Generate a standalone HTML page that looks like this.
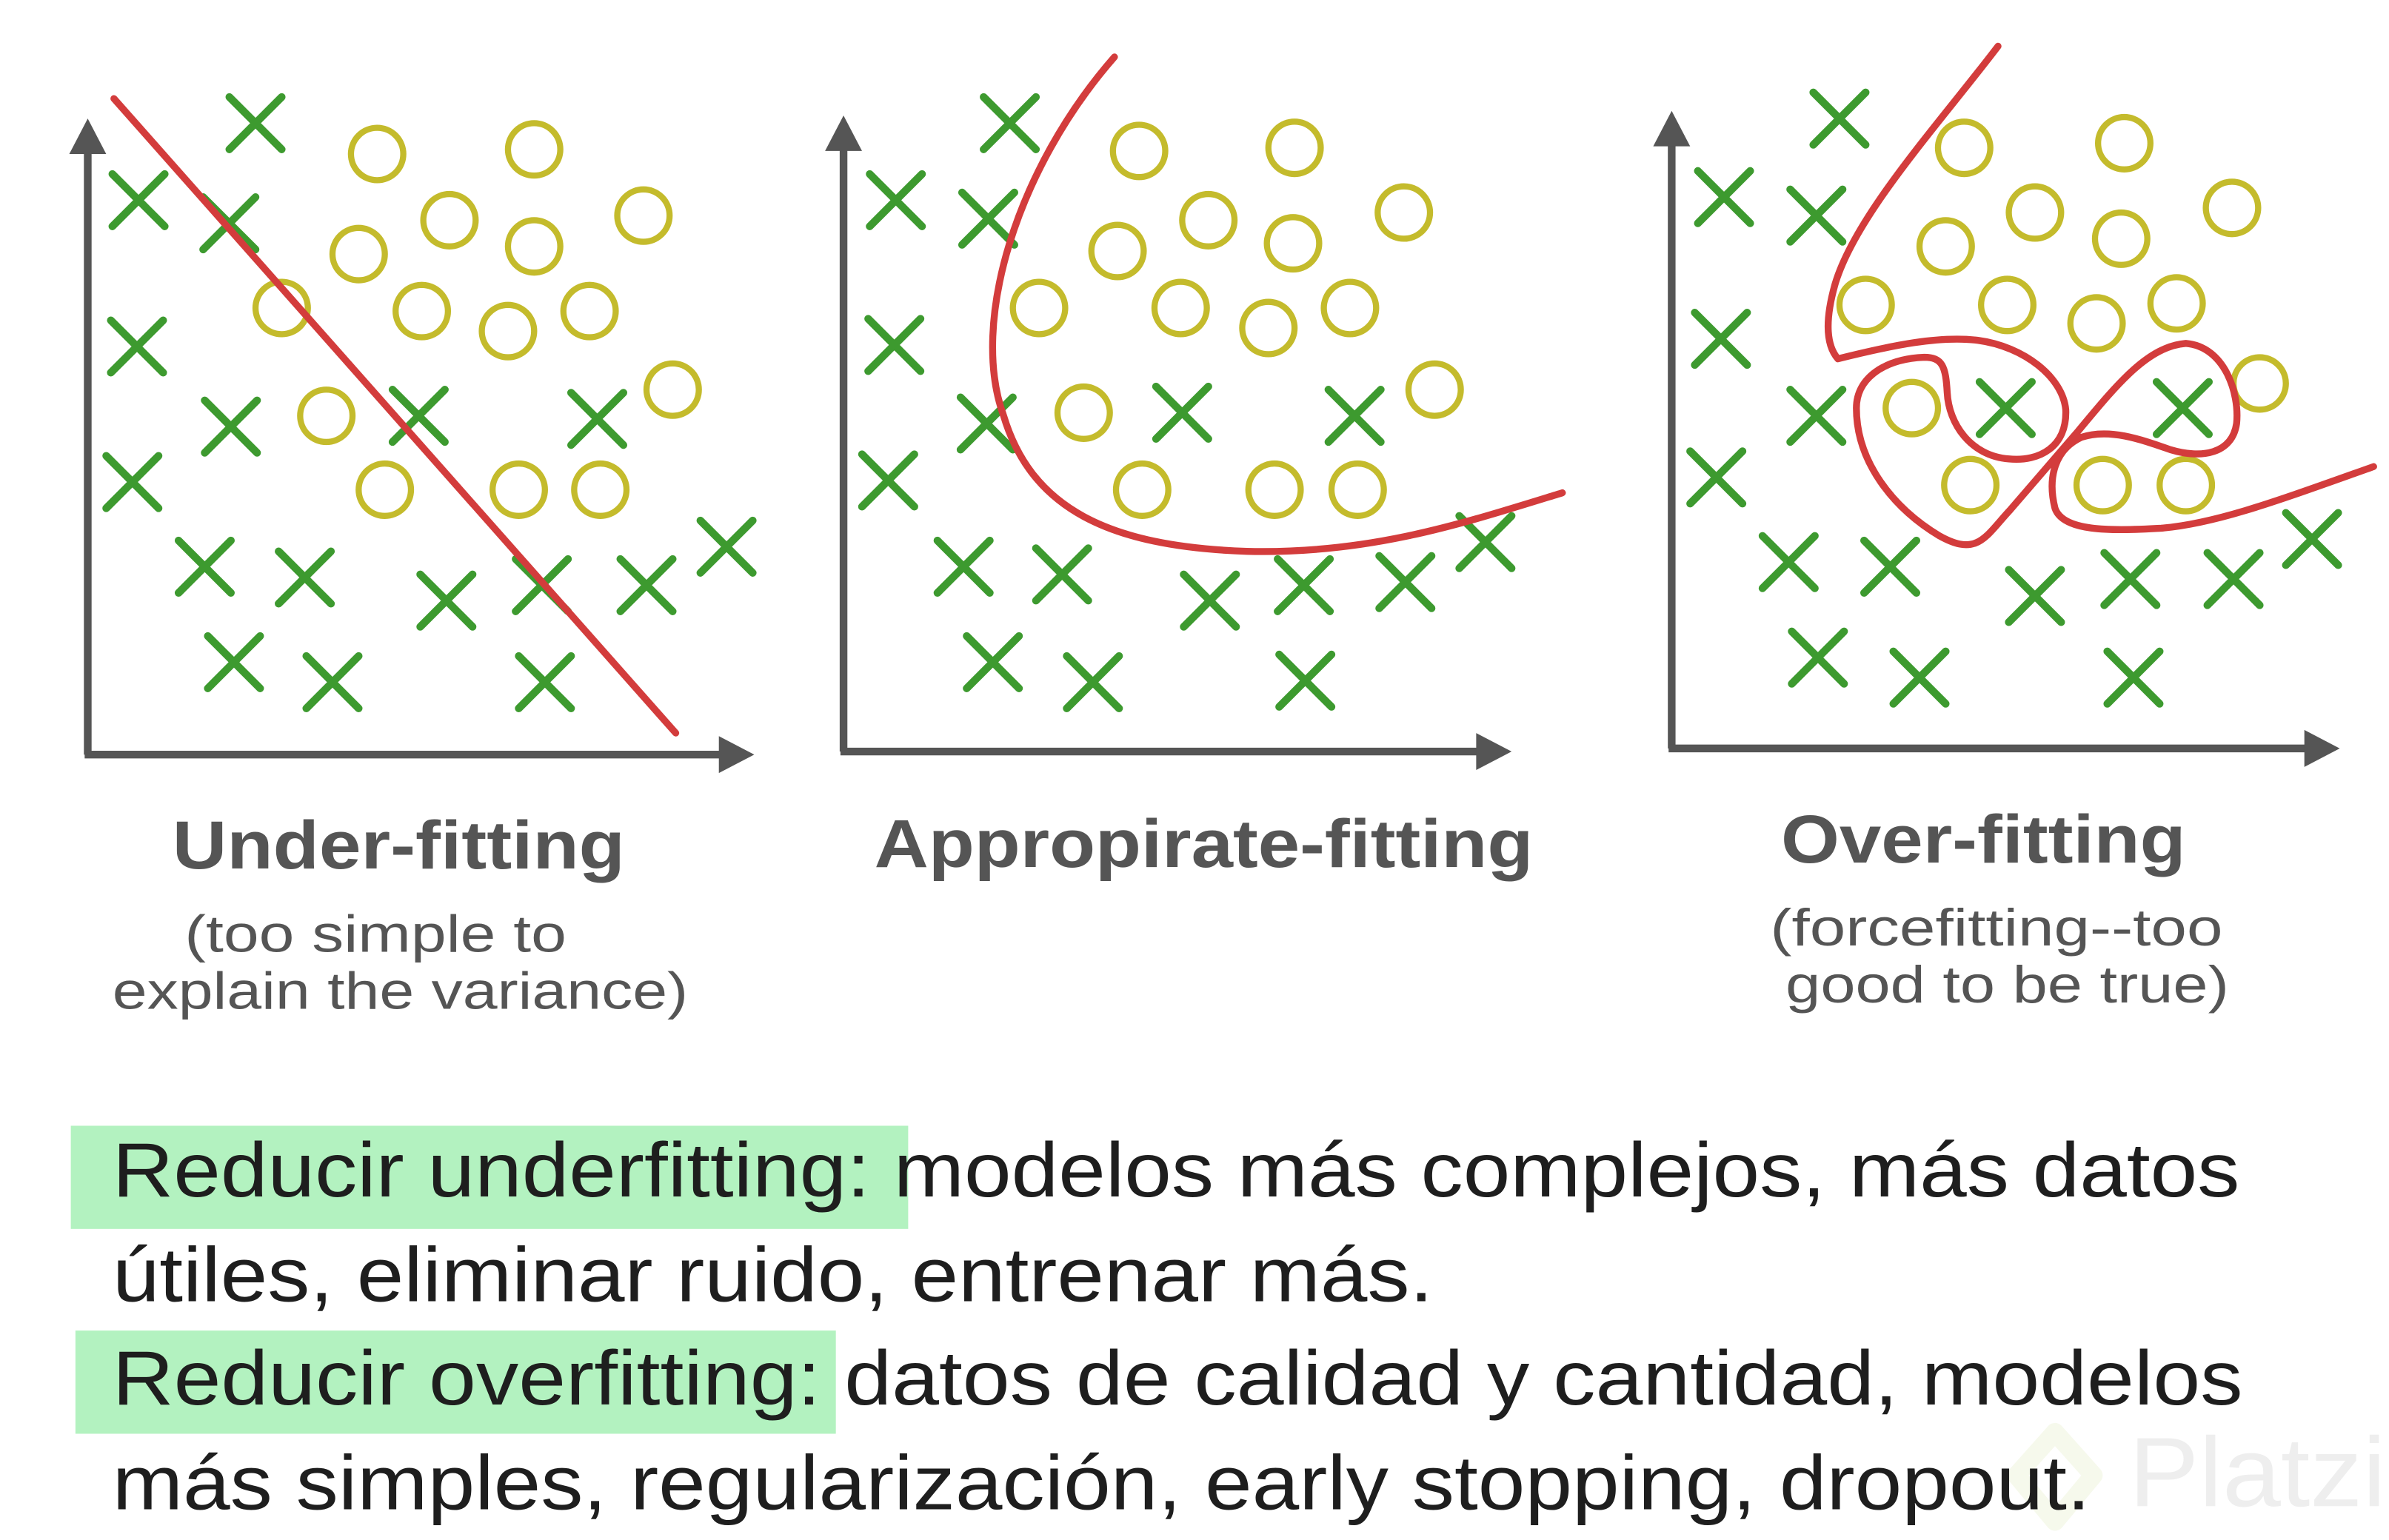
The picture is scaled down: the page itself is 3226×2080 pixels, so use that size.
<!DOCTYPE html>
<html><head><meta charset="utf-8"><style>html,body{margin:0;padding:0;background:#fff}svg{display:block}</style></head>
<body>
<svg width="3226" height="2080" viewBox="0 0 1552 1000" preserveAspectRatio="none" xmlns="http://www.w3.org/2000/svg">
<defs>
<path id="x" d="M-17,-17L17,17M17,-17L-17,17" stroke="#3d9a2f" stroke-width="5" stroke-linecap="round" fill="none"/>
<circle id="o" r="17" stroke="#c4bb2c" stroke-width="4" fill="none"/>
</defs>
<rect width="1552" height="1000" fill="#fff"/>
<!-- watermark -->
<path d="M1335,930 L1360,958 L1335,988 L1310,958 Z" fill="none" stroke="#f6f9ec" stroke-width="12" stroke-linejoin="round"/>
<text x="1383" y="978" font-family="Liberation Sans, sans-serif" font-size="64" fill="#eeeeee" textLength="167" lengthAdjust="spacingAndGlyphs">Platzi</text>

<g fill="#555" stroke="#555" stroke-width="5">
<line x1="57" y1="95" x2="57" y2="490"/><line x1="55" y1="490" x2="470" y2="490"/>
<line x1="548" y1="95" x2="548" y2="488"/><line x1="546" y1="488" x2="962" y2="488"/>
<line x1="1086" y1="92" x2="1086" y2="486"/><line x1="1084" y1="486" x2="1500" y2="486"/>
</g>
<g fill="#555">
<polygon points="57,77 45,100 69,100"/><polygon points="490,490 467,478 467,502"/>
<polygon points="548,75 536,98 560,98"/><polygon points="982,488 959,476 959,500"/>
<polygon points="1086,72 1074,95 1098,95"/><polygon points="1520,486 1497,474 1497,498"/>
</g>

<!-- panel 1 -->
<g>
<use href="#x" x="166" y="80"/><use href="#x" x="90" y="130"/><use href="#x" x="149" y="145"/><use href="#x" x="89" y="225"/><use href="#x" x="150" y="277"/><use href="#x" x="272" y="270"/><use href="#x" x="388" y="272"/><use href="#x" x="86" y="313"/><use href="#x" x="133" y="368"/><use href="#x" x="198" y="375"/><use href="#x" x="290" y="390"/><use href="#x" x="352" y="380"/><use href="#x" x="420" y="380"/><use href="#x" x="472" y="355"/><use href="#x" x="152" y="430"/><use href="#x" x="216" y="443"/><use href="#x" x="354" y="443"/>
<use href="#o" x="245" y="100"/><use href="#o" x="347" y="97"/><use href="#o" x="292" y="143"/><use href="#o" x="418" y="140"/><use href="#o" x="233" y="165"/><use href="#o" x="347" y="160"/><use href="#o" x="183" y="200"/><use href="#o" x="274" y="202"/><use href="#o" x="330" y="215"/><use href="#o" x="383" y="202"/><use href="#o" x="212" y="270"/><use href="#o" x="437" y="253"/><use href="#o" x="250" y="318"/><use href="#o" x="337" y="318"/><use href="#o" x="390" y="318"/>
<line x1="74" y1="64" x2="439" y2="476" stroke="#d33c3c" stroke-width="4.5" stroke-linecap="round"/>
</g>

<!-- panel 2 -->
<g>
<use href="#x" x="656" y="80"/><use href="#x" x="582" y="130"/><use href="#x" x="642" y="142"/><use href="#x" x="581" y="224"/><use href="#x" x="641" y="275"/><use href="#x" x="768" y="268"/><use href="#x" x="880" y="270"/><use href="#x" x="577" y="312"/><use href="#x" x="626" y="368"/><use href="#x" x="690" y="373"/><use href="#x" x="786" y="390"/><use href="#x" x="847" y="380"/><use href="#x" x="913" y="378"/><use href="#x" x="965" y="352"/><use href="#x" x="645" y="430"/><use href="#x" x="710" y="443"/><use href="#x" x="848" y="442"/>
<use href="#o" x="740" y="98"/><use href="#o" x="841" y="96"/><use href="#o" x="785" y="143"/><use href="#o" x="912" y="138"/><use href="#o" x="726" y="163"/><use href="#o" x="840" y="158"/><use href="#o" x="675" y="200"/><use href="#o" x="767" y="200"/><use href="#o" x="824" y="213"/><use href="#o" x="877" y="200"/><use href="#o" x="704" y="268"/><use href="#o" x="932" y="253"/><use href="#o" x="742" y="318"/><use href="#o" x="828" y="318"/><use href="#o" x="882" y="318"/>
<path d="M724,37 C660,110 630,210 652,270 C670,330 720,355 810,358 C890,360 950,340 1015,320" stroke="#d33c3c" stroke-width="4.5" fill="none" stroke-linecap="round"/>
</g>

<!-- panel 3 -->
<g>
<use href="#x" x="1195" y="77"/><use href="#x" x="1120" y="128"/><use href="#x" x="1180" y="140"/><use href="#x" x="1118" y="220"/><use href="#x" x="1180" y="270"/><use href="#x" x="1303" y="265"/><use href="#x" x="1418" y="265"/><use href="#x" x="1115" y="310"/><use href="#x" x="1162" y="365"/><use href="#x" x="1228" y="368"/><use href="#x" x="1322" y="387"/><use href="#x" x="1384" y="376"/><use href="#x" x="1451" y="376"/><use href="#x" x="1502" y="350"/><use href="#x" x="1181" y="427"/><use href="#x" x="1247" y="440"/><use href="#x" x="1386" y="440"/>
<use href="#o" x="1276" y="96"/><use href="#o" x="1380" y="93"/><use href="#o" x="1322" y="138"/><use href="#o" x="1450" y="135"/><use href="#o" x="1264" y="160"/><use href="#o" x="1378" y="155"/><use href="#o" x="1212" y="198"/><use href="#o" x="1304" y="198"/><use href="#o" x="1362" y="210"/><use href="#o" x="1414" y="197"/><use href="#o" x="1242" y="265"/><use href="#o" x="1468" y="249"/><use href="#o" x="1280" y="315"/><use href="#o" x="1366" y="315"/><use href="#o" x="1420" y="315"/>
<path d="M1298,30 C1260,80 1205,140 1192,185 C1185,210 1187,225 1194,233 C1230,224 1260,218 1285,221 C1315,225 1340,245 1342,266 C1343,290 1325,300 1305,298 C1280,296 1266,275 1265,255 C1264,238 1262,232 1250,232 C1225,233 1206,245 1206,265 C1206,300 1230,330 1260,348 C1285,362 1290,348 1306,331 L1350,280 C1375,250 1395,225 1420,223 C1445,225 1455,255 1453,275 C1450,295 1430,298 1410,292 C1390,285 1370,278 1352,284 C1335,292 1330,310 1335,330 C1340,345 1370,345 1404,343 C1440,340 1480,325 1542,303" stroke="#d33c3c" stroke-width="4.5" fill="none" stroke-linecap="round" stroke-linejoin="round"/>
</g>

<!-- titles -->
<g font-family="Liberation Sans, sans-serif" fill="#555">
<text x="112" y="564" font-size="44" font-weight="bold" textLength="294" lengthAdjust="spacingAndGlyphs">Under-fitting</text>
<text x="568" y="563" font-size="44" font-weight="bold" textLength="428" lengthAdjust="spacingAndGlyphs">Appropirate-fitting</text>
<text x="1157" y="560" font-size="44" font-weight="bold" textLength="263" lengthAdjust="spacingAndGlyphs">Over-fitting</text>
<text x="120" y="618" font-size="34" textLength="248" lengthAdjust="spacingAndGlyphs">(too simple to</text>
<text x="73" y="655" font-size="34" textLength="374" lengthAdjust="spacingAndGlyphs">explain the variance)</text>
<text x="1150" y="614" font-size="34" textLength="294" lengthAdjust="spacingAndGlyphs">(forcefitting--too</text>
<text x="1160" y="651" font-size="34" textLength="288" lengthAdjust="spacingAndGlyphs">good to be true)</text>
</g>

<!-- bottom -->
<rect x="46" y="731" width="544" height="67" fill="#b3f2c0"/>
<rect x="49" y="864" width="494" height="67" fill="#b3f2c0"/>
<g font-family="Liberation Sans, sans-serif" fill="#1e1e1e" font-size="50">
<text x="73" y="777" textLength="1382" lengthAdjust="spacingAndGlyphs">Reducir underfitting: modelos más complejos, más datos</text>
<text x="73" y="845" textLength="858" lengthAdjust="spacingAndGlyphs">útiles, eliminar ruido, entrenar más.</text>
<text x="73" y="912" textLength="1384" lengthAdjust="spacingAndGlyphs">Reducir overfitting: datos de calidad y cantidad, modelos</text>
<text x="73" y="980" textLength="1285" lengthAdjust="spacingAndGlyphs">más simples, regularización, early stopping, dropout.</text>
</g>
</svg>
</body></html>
